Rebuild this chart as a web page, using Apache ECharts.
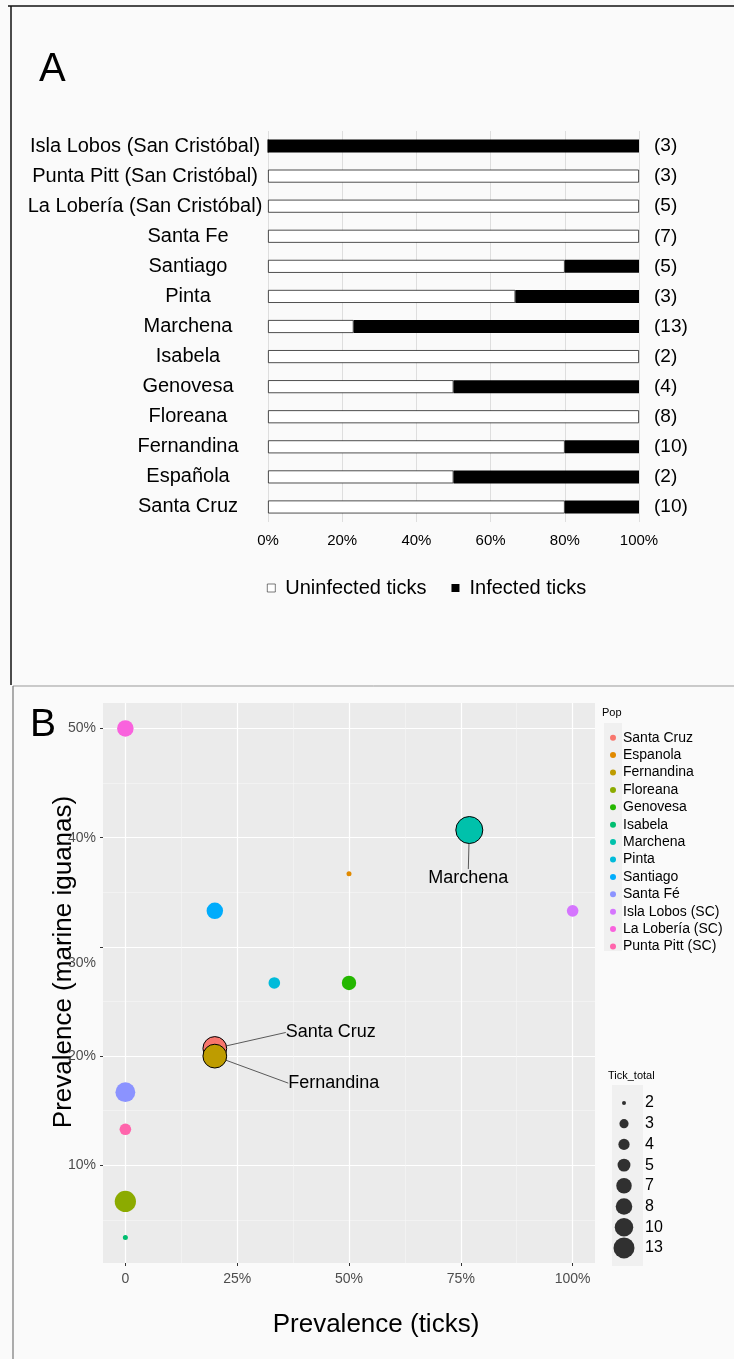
<!DOCTYPE html>
<html><head><meta charset="utf-8">
<script src="https://cdn.jsdelivr.net/npm/echarts@6/dist/echarts.min.js"></script>
<style>html,body{margin:0;padding:0;background:#fafafa}#c{width:734px;height:1359px}</style>
</head><body><div id="c"></div>
<script>
// ---------- Panel A data ----------
const categories = ['Isla Lobos (San Cristóbal)', 'Punta Pitt (San Cristóbal)', 'La Lobería (San Cristóbal)', 'Santa Fe', 'Santiago', 'Pinta', 'Marchena', 'Isabela', 'Genovesa', 'Floreana', 'Fernandina', 'Española', 'Santa Cruz'];
const tickTotal = [3, 3, 5, 7, 5, 3, 13, 2, 4, 8, 10, 2, 10];
const infectedTicks = [3, 0, 0, 0, 1, 1, 10, 0, 2, 0, 2, 1, 2];
const xTicksA = [0, 20, 40, 60, 80, 100];

// ---------- Panel B data ----------
const popNames = ['Santa Cruz', 'Espanola', 'Fernandina', 'Floreana', 'Genovesa', 'Isabela', 'Marchena', 'Pinta', 'Santiago', 'Santa Fé', 'Isla Lobos (SC)', 'La Lobería (SC)', 'Punta Pitt (SC)'];
const popTickPrev = [0.2, 0.5, 0.2, 0, 0.5, 0, 0.769, 0.333, 0.2, 0, 1.0, 0, 0];
const popIguanaPrev = [0.207, 0.367, 0.200, 0.067, 0.267, 0.034, 0.407, 0.267, 0.333, 0.167, 0.333, 0.5, 0.133];
const popTickTotal = [10, 2, 10, 8, 4, 2, 13, 3, 5, 7, 3, 5, 3];
const xTicksB = [0, 0.25, 0.5, 0.75, 1];
const xMinorB = [0.125, 0.375, 0.625, 0.875];
const yTicksB = [0.1, 0.2, 0.3, 0.4, 0.5];
const yMinorB = [0.05, 0.15, 0.25, 0.35, 0.45];
const sizeKeys = [2, 3, 4, 5, 7, 8, 10, 13];

// ---------- styles ----------
const popColors = ['#F8766D', '#E18A00', '#BE9C00', '#8CAB00', '#24B700', '#00BE70', '#00C1AB', '#00BBDA', '#00ACFC', '#8B93FF', '#D575FE', '#F962DD', '#FF65AC'];
const labelOffsets = { 'Santa Cruz': [116, -16], 'Fernandina': [119, 27], 'Marchena': [-1, 48] };
const FONT = '"Liberation Sans", Arial, Helvetica, sans-serif';

const uninfectedPct = tickTotal.map((t, i) => (t - infectedTicks[i]) / t * 100);
const infectedPct = tickTotal.map((t, i) => infectedTicks[i] / t * 100);

const plotSize = v => 5 + 22 * Math.sqrt((v - 2) / 11);
const keySize = v => 4 + 17 * Math.sqrt((v - 2) / 11);

const chart = echarts.init(document.getElementById('c'), null, { renderer: 'canvas' });

const scatterSeries = popNames.map((name, i) => {
  const off = labelOffsets[name];
  const s = {
    type: 'scatter', name: name, xAxisIndex: 1, yAxisIndex: 2,
    data: [[popTickPrev[i], popIguanaPrev[i], popTickTotal[i]]],
    symbolSize: v => plotSize(v[2]),
    itemStyle: { color: popColors[i], opacity: 1 },
    emphasis: { disabled: true }
  };
  if (off) {
    s.itemStyle.borderColor = '#000';
    s.itemStyle.borderWidth = 1;
    s.label = { show: true, position: 'inside', formatter: name, fontSize: 18, color: '#000', fontFamily: FONT };
    s.labelLine = { show: true, lineStyle: { color: '#333', width: 0.8 } };
    s.labelLayout = { dx: off[0], dy: off[1] };
  }
  return s;
});

const option = {
  backgroundColor: '#fafafa',
  animation: false,
  textStyle: { fontFamily: FONT },
  title: [
    { text: 'A', left: 34, top: 45, textStyle: { fontSize: 40, fontWeight: 'normal', color: '#000', fontFamily: FONT } },
    { text: 'B', left: 25, top: 701, textStyle: { fontSize: 39, fontWeight: 'normal', color: '#000', fontFamily: FONT } },
    { text: 'Pop', left: 602, top: 707, padding: 0, textStyle: { fontSize: 11, fontWeight: 'normal', color: '#000', fontFamily: FONT } },
    { text: 'Tick_total', left: 608, top: 1070, padding: 0, textStyle: { fontSize: 11, fontWeight: 'normal', color: '#000', fontFamily: FONT } }
  ],
  legend: [
    {
      data: ['Uninfected ticks', 'Infected ticks'], left: 262, top: 573, orient: 'horizontal',
      itemWidth: 8, itemHeight: 8, itemGap: 25, icon: 'rect', selectedMode: false,
      itemStyle: { borderWidth: 0.6 },
      textStyle: { fontSize: 20, color: '#000', fontFamily: FONT, padding: [0, 0, 0, 5] }
    },
    {
      data: popNames, left: 605, top: 724, orient: 'vertical',
      itemWidth: 6, itemHeight: 6, itemGap: 0, icon: 'circle', selectedMode: false,
      itemStyle: { borderWidth: 0 },
      textStyle: { fontSize: 14, lineHeight: 17.4, color: '#000', fontFamily: FONT, padding: [0, 0, 0, 2] }
    }
  ],
  grid: [
    { left: 268, right: 95, top: 131, height: 391 },
    { left: 103, right: 139, top: 703, bottom: 96, show: true, backgroundColor: '#ebebeb', borderWidth: 0 },
    { left: 610, width: 28, top: 1092.6, height: 165.7 }
  ],
  xAxis: [
    {
      type: 'value', gridIndex: 0, min: 0, max: 100, interval: 20,
      axisLine: { show: false }, axisTick: { show: false },
      axisLabel: { formatter: '{value}%', fontSize: 15, color: '#000', margin: 11 },
      splitLine: { lineStyle: { color: '#dedede', width: 1 } }
    },
    {
      type: 'value', gridIndex: 1, min: -0.05, max: 1.05, position: 'bottom',
      axisLine: { show: false, onZero: false },
      axisTick: { show: true, customValues: xTicksB, length: 3, lineStyle: { color: '#333' } },
      axisLabel: { customValues: xTicksB, formatter: v => v === 0 ? '0' : Math.round(v * 100) + '%', fontSize: 14, color: '#4d4d4d', margin: 9 },
      splitLine: { show: true, lineStyle: { color: '#ffffff', width: 1.2 } },
      name: 'Prevalence (ticks)', nameLocation: 'middle', nameGap: 49, nameMoveOverlap: false,
      nameTextStyle: { fontSize: 26, color: '#000', fontFamily: FONT, padding: [0, 0, 0, 54] }
    },
    {
      type: 'value', gridIndex: 1, min: -0.05, max: 1.05, position: 'top',
      axisLine: { show: false, onZero: false },
      axisTick: { show: false, customValues: xMinorB },
      axisLabel: { show: false, customValues: xMinorB },
      splitLine: { show: true, lineStyle: { color: '#f7f7f7', width: 0.6 } }
    },
    { type: 'value', gridIndex: 2, min: 0, max: 1, show: false }
  ],
  yAxis: [
    {
      type: 'category', gridIndex: 0, data: categories, inverse: true,
      axisLine: { show: false }, axisTick: { show: false }, splitLine: { show: false },
      axisLabel: {
        margin: 80, align: 'center', fontSize: 20, color: '#000',
        formatter: v => v.length > 15 ? '{l|' + v + '}' : v,
        rich: { l: { padding: [0, 86, 0, 0], fontSize: 20, color: '#000', fontFamily: FONT } }
      }
    },
    {
      type: 'category', gridIndex: 0, data: categories, inverse: true, position: 'right',
      axisLine: { show: false }, axisTick: { show: false }, splitLine: { show: false },
      axisLabel: { margin: 15, fontSize: 19, color: '#000', formatter: (v, i) => '(' + tickTotal[i] + ')' }
    },
    {
      type: 'value', gridIndex: 1, min: 0.0106, max: 0.5233, position: 'left',
      axisLine: { show: false, onZero: false },
      axisTick: { show: true, customValues: yTicksB, length: 3, lineStyle: { color: '#333' } },
      axisLabel: {
        customValues: yTicksB, fontSize: 14, color: '#4d4d4d', margin: 7,
        formatter: v => Math.abs(v - 0.3) < 1e-9 ? '{o|30%}' : Math.round(v * 100) + '%',
        rich: { o: { padding: [32, 0, 0, 0], fontSize: 14, color: '#4d4d4d', fontFamily: FONT } }
      },
      splitLine: { show: true, lineStyle: { color: '#ffffff', width: 1.2 } },
      name: 'Prevalence (marine iguanas)', nameLocation: 'middle', nameGap: 26, nameMoveOverlap: false,
      nameTextStyle: { fontSize: 26, color: '#000', fontFamily: FONT, padding: [0, 0, 0, 42] }
    },
    {
      type: 'value', gridIndex: 1, min: 0.0106, max: 0.5233, position: 'right',
      axisLine: { show: false, onZero: false },
      axisTick: { show: false, customValues: yMinorB },
      axisLabel: { show: false, customValues: yMinorB },
      splitLine: { show: true, lineStyle: { color: '#f7f7f7', width: 0.6 } }
    },
    {
      type: 'category', gridIndex: 2, data: sizeKeys.map(String), inverse: true, position: 'right',
      axisLine: { show: false }, axisTick: { show: false }, splitLine: { show: false },
      axisLabel: { margin: 7, fontSize: 16, color: '#000', interval: 0 }
    }
  ],
  graphic: [
    { type: 'line', shape: { x1: 8, y1: 6, x2: 734, y2: 6 }, style: { stroke: '#111', lineWidth: 1.5 }, silent: true },
    { type: 'line', shape: { x1: 11, y1: 6, x2: 11, y2: 685 }, style: { stroke: '#111', lineWidth: 1.5 }, silent: true },
    { type: 'line', shape: { x1: 13, y1: 686, x2: 734, y2: 686 }, style: { stroke: '#999', lineWidth: 1 }, silent: true },
    { type: 'line', shape: { x1: 13, y1: 686, x2: 13, y2: 1359 }, style: { stroke: '#777', lineWidth: 1.2 }, silent: true },
    { type: 'rect', shape: { x: 604, y: 723, width: 18, height: 228 }, style: { fill: '#f0f0f0' }, z: -1, silent: true },
    { type: 'rect', shape: { x: 612, y: 1085, width: 31, height: 181 }, style: { fill: '#f0f0f0' }, z: -1, silent: true }
  ],
  series: [
    {
      type: 'bar', name: 'Uninfected ticks', xAxisIndex: 0, yAxisIndex: 0, stack: 'ticks', barWidth: 13,
      data: uninfectedPct, itemStyle: { color: '#ffffff', borderColor: '#222', borderWidth: 0.8 }, emphasis: { disabled: true }
    },
    {
      type: 'bar', name: 'Infected ticks', xAxisIndex: 0, yAxisIndex: 0, stack: 'ticks', barWidth: 13,
      data: infectedPct, itemStyle: { color: '#000000' }, emphasis: { disabled: true }
    },
    ...scatterSeries,
    {
      type: 'scatter', name: 'Tick_total', xAxisIndex: 3, yAxisIndex: 4,
      data: sizeKeys.map(k => [0.5, String(k), k]),
      symbolSize: v => keySize(v[2]), itemStyle: { color: '#000' }, silent: true
    }
  ]
};
chart.setOption(option);
</script></body></html>
